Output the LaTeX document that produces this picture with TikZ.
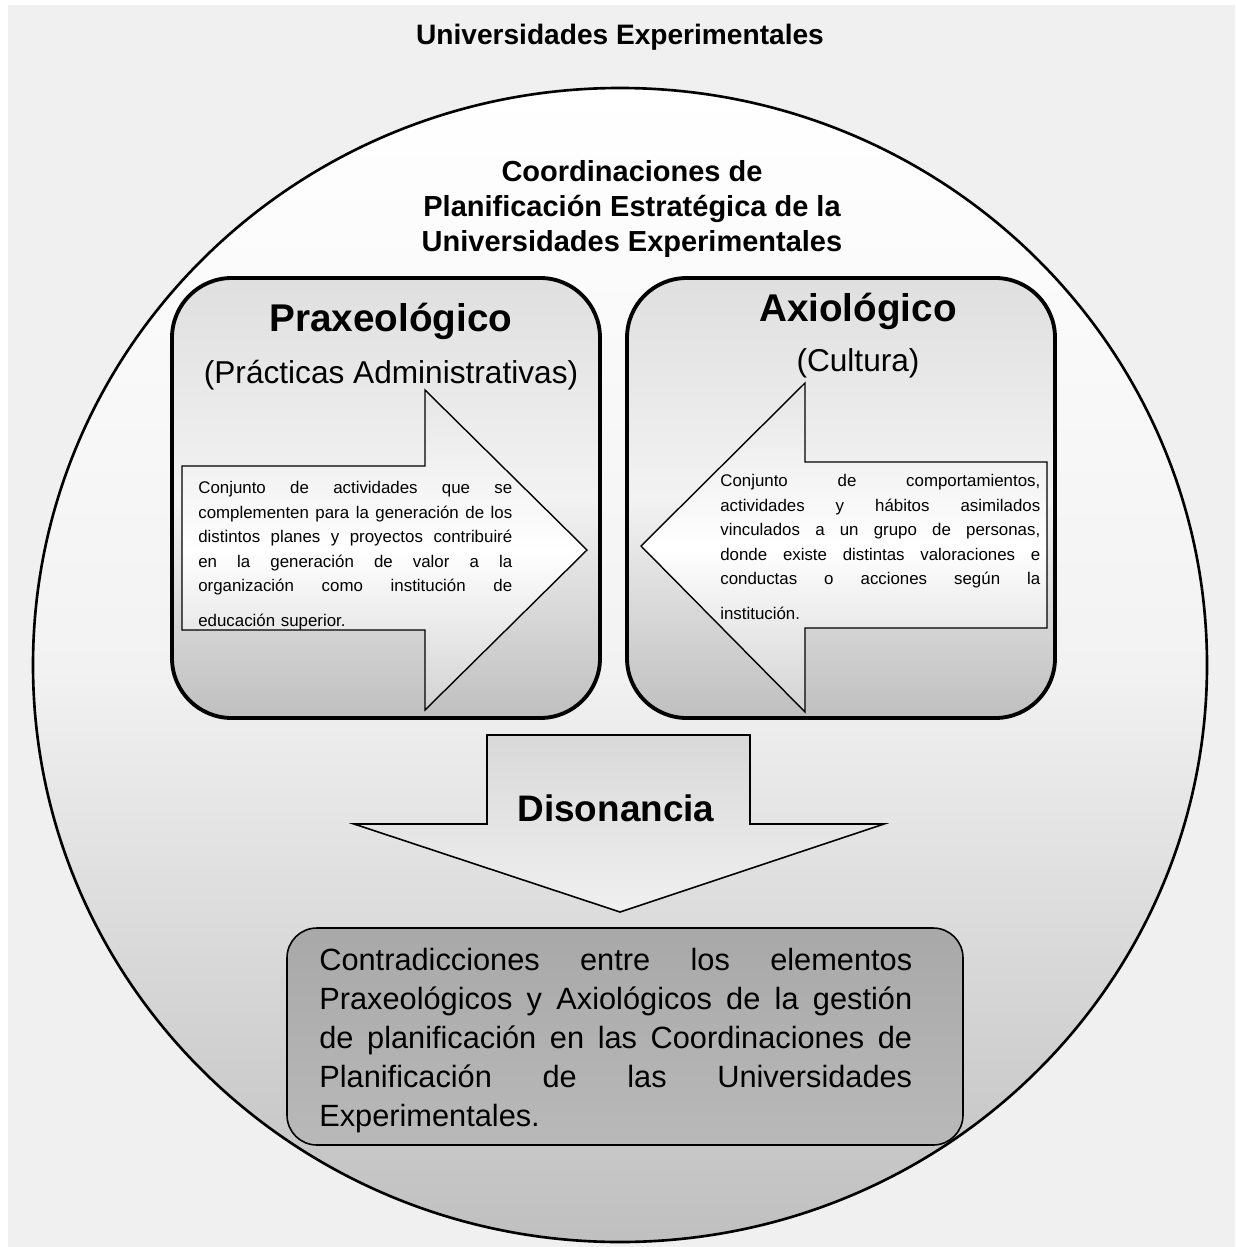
\documentclass[tikz,border=0pt]{standalone}
\usepackage{fontspec}
\setmainfont{Liberation Sans}
\usetikzlibrary{positioning}

\newcommand{\jlw}{6.28cm}
\newcommand{\jl}[1]{\makebox[\jlw][s]{\spaceskip=.3em plus 1fil\relax #1}}

\begin{document}
\begin{tikzpicture}[x=0.02cm, y=-0.02cm, every node/.style={inner sep=0pt},
  panel/.style={draw, line width=2.2pt, rounded corners=34pt, top color=gray!25, bottom color=gray!50, middle color=gray!10},
  flecha/.style={draw, line width=0.8pt, top color=gray!20, bottom color=gray!35, middle color=white},
  smalltxt/.style={font=\fontsize{9.6}{14}\selectfont, align=left, anchor=north west}]
  \useasboundingbox (0,0) rectangle (1235,1247);
  % fondo
  \fill[white] (0,0) rectangle (1235,1247);
  \fill[gray!12] (8,5) rectangle (1235,1247);
  \draw[line width=1.5pt, top color=white, bottom color=gray!50, middle color=gray!10] (620,665) ellipse [x radius=587, y radius=577];
  \node[font=\fontsize{16}{19}\selectfont\bfseries] (univ) at (620,37) {Universidades Experimentales};
  \node[font=\fontsize{16.5}{20}\selectfont\bfseries, align=center] (coord) at (632,209) {Coordinaciones de\\Planificación Estratégica de la\\Universidades Experimentales};

  % Praxeologico
  \draw[panel] (172,278) rectangle (600,718);
  \draw[flecha] (182,466) -- (425,466) -- (425,390) -- (587,550) -- (425,710) -- (425,630) -- (182,630) -- cycle;
  \node[font=\fontsize{22}{26}\selectfont\bfseries] (prax) at (391,321) {Praxeológico};
  \node[font=\fontsize{18}{21}\selectfont, below=0.4cm of prax] (praxsub) {(Prácticas Administrativas)};
  \node[smalltxt, text width=6.28cm] (praxtxt) at (198,481) {\jl{Conjunto de actividades que se}\\
    \jl{complementen para la generación de los}\\
    \jl{distintos planes y proyectos contribuiré}\\
    \jl{en la generación de valor a la}\\
    \jl{organización como institución de}\\[5.6pt]
    educación superior.};

  % Axiologico
  \draw[panel] (627,278) rectangle (1055,718);
  \draw[flecha] (1047,462) -- (805,462) -- (805,383) -- (641,546) -- (805,712) -- (805,628) -- (1047,628) -- cycle;
  \node[font=\fontsize{22}{26}\selectfont\bfseries] (axio) at (858,311) {Axiológico};
  \node[font=\fontsize{18}{21}\selectfont, below=0.38cm of axio] (axiosub) {(Cultura)};
  \node[smalltxt, text width=6.4cm] (axiotxt) at (720,474) {\renewcommand{\jlw}{6.4cm}\jl{Conjunto de comportamientos,}\\
    \jl{actividades y hábitos asimilados}\\
    \jl{vinculados a un grupo de personas,}\\
    \jl{donde existe distintas valoraciones e}\\
    \jl{conductas o acciones según la}\\[5.6pt]
    institución.};

  % Disonancia
  \draw[line width=0.9pt, top color=gray!30, bottom color=gray!12] (487,735) -- (750,735) -- (750,824) -- (884,824) -- (620,912) -- (354,824) -- (487,824) -- cycle;
  \node[font=\fontsize{21}{25}\selectfont\bfseries] (dison) at (616,808) {Disonancia};

  % Contradicciones
  \draw[line width=0.9pt, rounded corners=17pt, top color=gray!68, bottom color=gray!55] (287,928) rectangle (963,1145);
  \node[font=\fontsize{17.5}{22.2}\selectfont, align=left, anchor=north west, text width=11.86cm] (contra) at (319,948) {\renewcommand{\jlw}{11.86cm}\jl{Contradicciones entre los elementos}\\
    \jl{Praxeológicos y Axiológicos de la gestión}\\
    \jl{de planificación en las Coordinaciones de}\\
    \jl{Planificación de las Universidades}\\
    Experimentales.};
\end{tikzpicture}
\end{document}
